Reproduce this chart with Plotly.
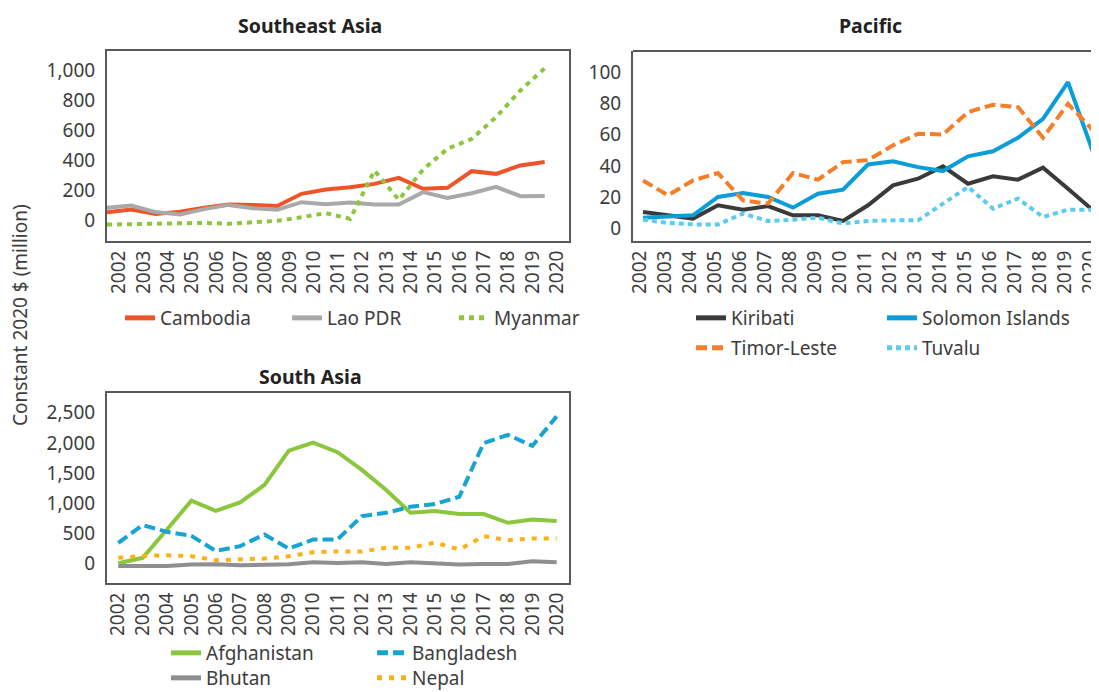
import plotly.graph_objects as go

# ---------------- data ----------------
years = list(range(2002, 2021))
year_labels = [str(y) for y in years]

# Southeast Asia
cambodia = [55, 73, 44, 58, 85, 107, 104, 96, 178, 207, 222, 244, 284, 211, 218, 329, 311, 367, 390]
lao_pdr = [85, 100, 56, 40, 76, 104, 82, 71, 122, 109, 120, 107, 107, 189, 151, 182, 224, 162, 164]
myanmar = [-27, -25, -22, -20, -16, -22, -12, -2, 22, 49, 11, 333, 138, 340, 478, 544, 689, 867, 1015]

# Pacific
kiribati = [10.6, 8.5, 6.4, 14.9, 12.1, 14.4, 8.5, 8.5, 4.9, 14.9, 27.6, 31.9, 39.8, 28.7, 33.4, 31.3, 39.0, 25.5, 11.7]
solomon_islands = [7.0, 8.0, 8.5, 20.2, 22.7, 20.2, 13.4, 22.3, 24.9, 41.0, 43.0, 39.3, 36.8, 46.2, 49.4, 58.1, 70.2, 93.6, 48.9]
timor_leste = [30.8, 21.3, 30.8, 35.5, 18.0, 16.0, 35.5, 31.3, 42.5, 43.8, 53.2, 60.6, 60.2, 74.5, 79.2, 77.7, 58.1, 79.8, 62.8]
tuvalu = [5.7, 3.6, 2.7, 2.7, 9.6, 4.9, 5.7, 7.0, 3.2, 4.9, 5.3, 5.3, 16.0, 26.6, 12.8, 19.2, 7.4, 12.1, 12.1]

# South Asia
afghanistan = [0, 90, 560, 1040, 870, 1010, 1300, 1870, 2005, 1845, 1550, 1217, 838, 867, 817, 817, 672, 728, 700]
bangladesh = [338, 633, 522, 455, 205, 283, 478, 245, 395, 395, 783, 838, 938, 983, 1105, 1995, 2133, 1950, 2440]
bhutan = [-45, -45, -45, -22, -17, -33, -33, -17, 17, 5, 17, -11, 17, 5, -22, -11, -11, 33, 17]
nepal = [90, 122, 133, 117, 50, 61, 78, 117, 183, 195, 195, 256, 256, 344, 228, 450, 383, 411, 411]

se_ticks = [0, 200, 400, 600, 800, 1000]
pac_ticks = [0, 20, 40, 60, 80, 100]
sa_ticks = [0, 500, 1000, 1500, 2000, 2500]

# ---------------- styling ----------------
OFF = 8                      # page body margin
W, H = 1099 - OFF, 692 - OFF
FONT = "Noto Sans"
TXT = "#3d3d3d"
AXC = "#595959"


def px(x):
    return (x - OFF) / W


def py(y):
    return 1 - (y - OFF) / H


fig = go.Figure()


def add(x, y, name, color, dash, xa, ya, legend, width=4):
    fig.add_trace(go.Scatter(
        x=x, y=y, name=name, mode="lines",
        line=dict(color=color, width=width, dash=dash),
        xaxis=xa, yaxis=ya, legend=legend, hoverinfo="x+y+name",
    ))


add(years, cambodia, "Cambodia", "#ee5428", "solid", "x", "y", "legend")
add(years, lao_pdr, "Lao PDR", "#a9a9a9", "solid", "x", "y", "legend")
add(years, myanmar, "Myanmar", "#8cc63e", "5px,5px", "x", "y", "legend")

add(years, kiribati, "Kiribati", "#3a3a3a", "solid", "x2", "y2", "legend2")
add(years, solomon_islands, "Solomon Islands", "#0a9dd9", "solid", "x2", "y2", "legend2")
add(years, timor_leste, "Timor-Leste", "#f47f2a", "11px,5px", "x2", "y2", "legend3")
add(years, tuvalu, "Tuvalu", "#5dcbf0", "5px,4px", "x2", "y2", "legend3")

add(years, afghanistan, "Afghanistan", "#8cc63e", "solid", "x3", "y3", "legend4")
add(years, bangladesh, "Bangladesh", "#18a4d1", "11px,5px", "x3", "y3", "legend4")
add(years, bhutan, "Bhutan", "#8f8f8f", "solid", "x3", "y3", "legend5")
add(years, nepal, "Nepal", "#fbb116", "5px,7px", "x3", "y3", "legend5")

tickfont = dict(family=FONT, size=19, color=TXT)

xcommon = dict(showgrid=False, zeroline=False, ticks="", tickangle=-90,
               tickfont=tickfont, showline=True, linecolor=AXC, linewidth=2,
               automargin=False, ticklabeloverflow="allow")
ycommon = dict(showgrid=False, zeroline=False, ticks="", tickfont=tickfont,
               showline=True, linecolor=AXC, linewidth=2, tickformat=",",
               ticklabelstandoff=6, automargin=False)

layout = dict(
    width=W, height=H,
    margin=dict(l=0, r=0, t=0, b=0, autoexpand=False),
    paper_bgcolor="white", plot_bgcolor="white",
    font=dict(family=FONT, size=19, color=TXT),
    # Southeast Asia
    xaxis=dict(xcommon, domain=[px(107), px(569)], range=[2002, 2021],
               tickvals=[y + 0.5 for y in years], ticktext=year_labels,
               mirror=True, anchor="y"),
    yaxis=dict(ycommon, domain=[py(241), py(51)],
               range=[(220.5 - 241) / 0.15, (220.5 - 51) / 0.15],
               tickvals=se_ticks, mirror=True, anchor="x"),
    # Pacific
    xaxis2=dict(xcommon, domain=[px(633), 1], range=[2001.6, 2020.24],
                tickvals=years, ticktext=year_labels, anchor="y2",
                ticklabelshift=-3),
    yaxis2=dict(ycommon, domain=[py(241), py(51)],
                range=[(228.3 - 240.7) / 1.566, (228.3 - 50.5) / 1.566],
                tickvals=pac_ticks, anchor="x2"),
    # South Asia
    xaxis3=dict(xcommon, domain=[px(107), px(569)], range=[2001.536, 2020.505],
                tickvals=years, ticktext=year_labels, mirror=True, anchor="y3"),
    yaxis3=dict(ycommon, domain=[py(583), py(393)],
                range=[(563 - 582.7) / 0.06, (563 - 393.3) / 0.06],
                tickvals=sa_ticks, mirror=True, anchor="x3"),
)

legfont = dict(family=FONT, size=19, color=TXT)


def leg(xpx, ypx, entry):
    return dict(orientation="h", x=px(xpx), y=py(ypx), xanchor="left",
                yanchor="middle", entrywidth=entry, entrywidthmode="pixels",
                bgcolor="rgba(0,0,0,0)", font=legfont, traceorder="normal",
                itemsizing="constant")


layout["legend"] = leg(120, 318, 122)
layout["legend2"] = leg(691, 318, 146)
layout["legend3"] = leg(691, 348, 146)
layout["legend4"] = leg(166, 653, 161)
layout["legend5"] = leg(166, 678, 161)

fig.update_layout(**layout)

# Pacific top border (right side is cut by the page edge)
fig.add_shape(type="line", xref="x2 domain", yref="y2 domain",
              x0=0, x1=1, y0=1, y1=1, line=dict(color=AXC, width=2))

title_font = dict(family=FONT, size=19.5, color="#222222")


def note(text, x, y, font, angle=0):
    fig.add_annotation(text=text, x=px(x), y=py(y), xref="paper", yref="paper",
                       xanchor="center", yanchor="middle", showarrow=False,
                       textangle=angle, font=font)


note("<b>Southeast Asia</b>", 310, 25, title_font)
note("<b>Pacific</b>", 870, 25, title_font)
note("<b>South Asia</b>", 310, 376, title_font)
note("Constant 2020 $ (million)", 20, 315, dict(family=FONT, size=19, color=TXT), -90)

fig.write_html("out.html")
